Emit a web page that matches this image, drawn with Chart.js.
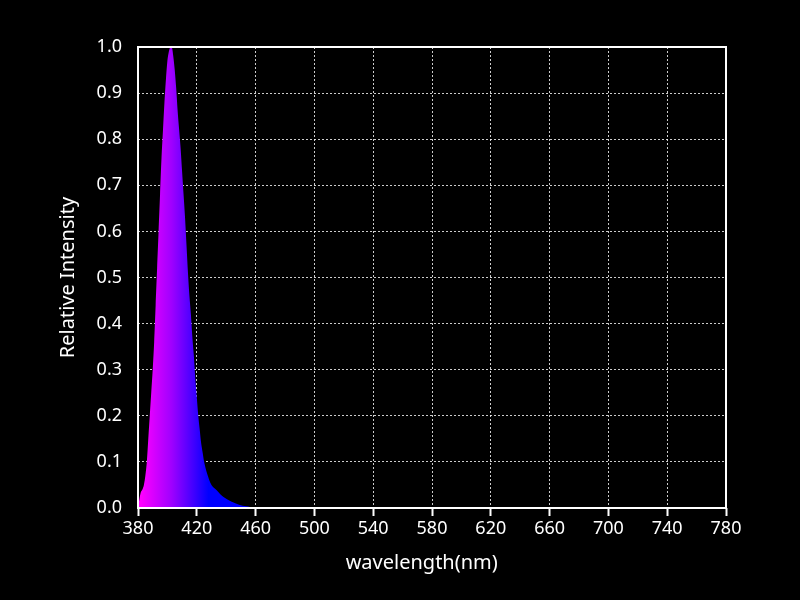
<!DOCTYPE html>
<html>
<head>
<meta charset="utf-8">
<script src="https://cdn.jsdelivr.net/npm/chart.js@4/dist/chart.umd.min.js"></script>
<style>
  html, body { margin: 0; padding: 0; background: #000; }
  #wrap { width: 800px; height: 600px; }
</style>
</head>
<body>
<div id="wrap"><canvas id="c" width="800" height="600"></canvas></div>
<script>
// Wavelength (nm) samples
const wavelengths = [380,381,382,383,384,385,386,387,388,389,390,391,392,393,394,395,396,397,398,399,400,401,402,403,404,405,406,407,408,409,410,411,412,413,414,415,416,417,418,419,420,421,422,423,424,425,427,430,433,436,440,445,450,455,460,500,600,700,780];
// Relative intensity values
const intensity = [0.0,0.02,0.035,0.04,0.05,0.07,0.10,0.15,0.20,0.25,0.30,0.36,0.44,0.52,0.60,0.68,0.76,0.82,0.88,0.93,0.97,0.99,1.0,1.0,0.98,0.95,0.91,0.86,0.82,0.78,0.73,0.68,0.63,0.57,0.51,0.46,0.42,0.37,0.33,0.28,0.24,0.20,0.17,0.14,0.12,0.10,0.075,0.05,0.04,0.03,0.02,0.012,0.006,0.003,0.0,0.0,0.0,0.0,0.0];
const xTicks = [380,420,460,500,540,580,620,660,700,740,780];
const yTicks = [0,0.1,0.2,0.3,0.4,0.5,0.6,0.7,0.8,0.9,1.0];
const xTitle = 'wavelength(nm)';
const yTitle = 'Relative Intensity';

const points = wavelengths.map((w, i) => ({ x: w, y: intensity[i] }));
const FONT = '"Noto Sans", "Open Sans", sans-serif';

const framePlugin = {
  id: 'frame',
  afterDraw(chart) {
    const { ctx, chartArea: a } = chart;
    ctx.save();
    ctx.strokeStyle = '#ffffff';
    ctx.lineWidth = 2;
    ctx.setLineDash([]);
    ctx.strokeRect(a.left, a.top, a.right - a.left, a.bottom - a.top);
    // x-axis title, slightly left of the plot centre as in the reference
    ctx.fillStyle = '#ffffff';
    ctx.font = '20px ' + FONT;
    ctx.textAlign = 'center';
    ctx.textBaseline = 'middle';
    ctx.fillText(xTitle, chart.scales.x.getPixelForValue(573), 563);
    ctx.restore();
  }
};
const bgPlugin = {
  id: 'bg',
  beforeDraw(chart) {
    const { ctx } = chart;
    ctx.save();
    ctx.fillStyle = '#000';
    ctx.fillRect(0, 0, chart.width, chart.height);
    ctx.restore();
  }
};

new Chart(document.getElementById('c'), {
  type: 'line',
  data: {
    datasets: [{
      data: points,
      borderWidth: 0,
      pointRadius: 0,
      tension: 0.3,
      fill: 'origin',
      borderColor: 'rgba(0,0,0,0)',
      backgroundColor(context) {
        const chart = context.chart;
        const x = chart.scales.x;
        if (!chart.chartArea || !x) return '#c000ff';
        const g = chart.ctx.createLinearGradient(x.getPixelForValue(382), 0, x.getPixelForValue(428), 0);
        g.addColorStop(0, '#ff00ff');
        g.addColorStop(0.45, '#a000ff');
        g.addColorStop(1, '#0000ff');
        return g;
      }
    }]
  },
  options: {
    responsive: false,
    animation: false,
    devicePixelRatio: 1,
    layout: { padding: { left: 52, right: 74, top: 47, bottom: 21 } },
    plugins: { legend: { display: false }, tooltip: { enabled: false } },
    scales: {
      x: {
        type: 'linear',
        min: 380, max: 780,
        afterBuildTicks(s) { s.ticks = xTicks.map(v => ({ value: v })); },
        afterFit(s) { s.height = 71; },
        grid: {
          color: 'rgba(255,255,255,0.8)',
          lineWidth: 1,
          tickBorderDash: [],
          tickColor: '#ffffff',
          tickWidth: 2,
          tickLength: 8,
          drawTicks: true
        },
        border: { display: false, dash: [2, 2] },
        ticks: { color: '#ffffff', font: { family: FONT, size: 18 }, padding: 2, maxRotation: 0 },
        title: { display: false }
      },
      y: {
        min: 0, max: 1.0,
        afterBuildTicks(s) { s.ticks = yTicks.map(v => ({ value: v })); },
        afterFit(s) { s.width = 86; },
        grid: {
          color: 'rgba(255,255,255,0.8)',
          lineWidth: 1,
          drawTicks: false
        },
        border: { display: false, dash: [2, 2] },
        ticks: { color: '#ffffff', font: { family: FONT, size: 18 }, padding: 16, callback: v => v.toFixed(1) },
        title: { display: true, text: yTitle, color: '#ffffff', font: { family: FONT, size: 20 }, padding: { top: 4, bottom: 4 } }
      }
    }
  },
  plugins: [bgPlugin, framePlugin]
});
</script>
</body>
</html>
